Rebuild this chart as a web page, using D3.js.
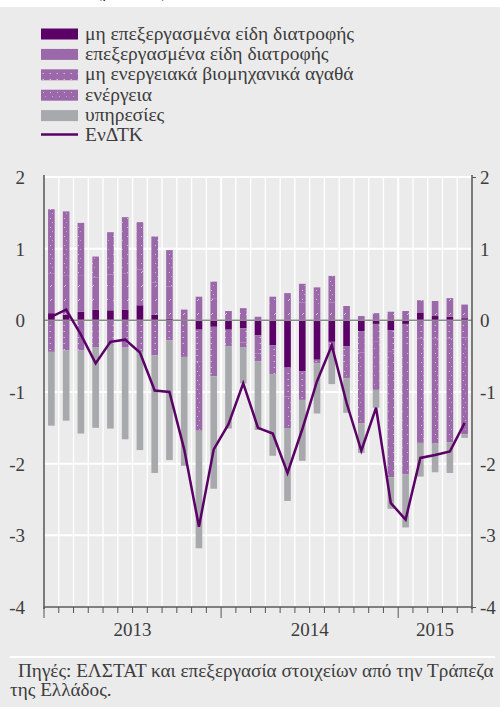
<!DOCTYPE html>
<html>
<head>
<meta charset="utf-8">
<script src="https://cdn.jsdelivr.net/npm/d3@7"></script>
<style>
  body { margin: 0; background: #fff; }
  svg { display: block; }
</style>
</head>
<body>
<div id="chart"></div>
<script>
// monthly, Jan 2013 - May 2015
const months = d3.range(29);
const years = [
  { label: "2013", from: 0, to: 11 },
  { label: "2014", from: 12, to: 23 },
  { label: "2015", from: 24, to: 28 }
];

const seriesNames = [
  "μη επεξεργασμένα είδη διατροφής",
  "επεξεργασμένα είδη διατροφής",
  "μη ενεργειακά βιομηχανικά αγαθά",
  "ενέργεια",
  "υπηρεσίες"
];
const lineName = "ΕνΔΤΚ";

const unprocessedFood = [0.10, 0.08, 0.12, 0.15, 0.14, 0.15, 0.21, 0.08, 0.02, 0.00, -0.13, -0.09,
  -0.13, -0.11, -0.21, -0.35, -0.66, -0.71, -0.55, -0.30, -0.36, -0.15, -0.05, -0.14,
  -0.05, 0.11, 0.06, 0.05, 0.03];
const processedFood = [0.55, 0.55, 0.50, 0.45, 0.50, 0.50, 0.50, 0.45, 0.45, 0.15, 0.33, 0.30,
  0.13, 0.17, 0.05, 0.20, 0.38, 0.25, 0.20, 0.25, 0.20, 0.06, 0.10, 0.12,
  0.13, 0.17, 0.21, 0.26, 0.19];
const industrialGoods = [-0.44, -0.42, -0.42, -0.38, -0.34, -0.38, -0.44, -0.49, -0.28, -0.40, -0.45, -0.69,
  -0.20, -0.20, -0.25, -0.40, -0.40, -0.40, -0.05, -0.12, -0.25, -0.30, -0.25, -0.30,
  -0.35, -0.25, -0.25, -0.25, -0.24];
const energy = [0.90, 0.89, 0.74, 0.29, 0.59, 0.79, 0.66, 0.64, 0.51, -0.11, -0.96, 0.24,
  -0.03, -0.07, -0.11, 0.13, -0.45, 0.26, 0.26, 0.37, -0.20, -0.99, -0.67, -1.75,
  -1.75, -1.46, -1.47, -1.45, -1.35];
const services = [-1.03, -0.98, -1.16, -1.12, -1.17, -1.28, -1.37, -1.64, -1.67, -1.52, -1.64, -1.57,
  -1.15, -0.50, -0.96, -1.14, -1.01, -0.85, -0.70, -0.47, -0.48, -0.41, -0.25, -0.44,
  -0.74, -0.47, -0.40, -0.43, -0.05];
const hicp = [0.05, 0.15, -0.20, -0.60, -0.30, -0.27, -0.45, -0.98, -1.00, -1.80, -2.88, -1.80,
  -1.45, -0.88, -1.50, -1.58, -2.13, -1.52, -0.85, -0.35, -1.15, -1.82, -1.22, -2.55,
  -2.78, -1.92, -1.88, -1.83, -1.43];

const yTicks = [2, 1, 0, -1, -2, -3, -4];

const width = 500, height = 707;
const dark = "#5a0066", mid = "#9b69a9", grey = "#a8a9ac", bg = "#ebebeb";
const serif = "'Liberation Serif', 'DejaVu Serif', serif";
const textColor = "#3c3c3c";

const svg = d3.select("#chart").append("svg")
  .attr("width", width).attr("height", height)
  .attr("font-family", serif);

svg.append("rect").attr("width", width).attr("height", height).attr("fill", bg);
svg.append("rect").attr("width", width).attr("height", 7).attr("fill", "#fff");
// title above, only its lowest pixels show in the picture
svg.append("text").attr("x", 96).attr("y", -3.5)
  .attr("font-family", serif).attr("font-size", 18).attr("fill", dark)
  .text("(μονάδες)");

// patterns for the three mid purple series
const defs = svg.append("defs");
function pattern(id, w, h, draw) {
  const p = defs.append("pattern").attr("id", id)
    .attr("patternUnits", "userSpaceOnUse").attr("width", w).attr("height", h);
  p.append("rect").attr("width", w).attr("height", h).attr("fill", mid);
  draw(p);
}
pattern("pf", 7, 14, p => {
  p.append("line").attr("x1", 1).attr("y1", 7).attr("x2", 3).attr("y2", 5)
    .attr("stroke", "#fff").attr("stroke-width", 1).attr("opacity", 0.6);
});
pattern("ng", 7, 6, p => {
  p.append("rect").attr("x", 0.5).attr("y", 1).attr("width", 1.5).attr("height", 1)
    .attr("fill", "#fff").attr("opacity", 0.55);
});
pattern("en", 7, 9, p => {
  p.append("rect").attr("x", 1).attr("y", 2).attr("width", 1).attr("height", 1)
    .attr("fill", "#fff").attr("opacity", 0.55);
  p.append("rect").attr("x", 3).attr("y", 6).attr("width", 1).attr("height", 1)
    .attr("fill", "#fff").attr("opacity", 0.4);
});
const fills = [dark, "url(#pf)", "url(#ng)", "url(#en)", grey];

// scales
const x = d3.scaleBand().domain(months).range([44, 472])
  .paddingInner(0.55).paddingOuter(0.275);
const y = d3.scaleLinear().domain([-4, 2]).range([607, 177]);
const step = x.step();

// grid
const g = svg.append("g");
g.selectAll(".vgrid").data(d3.range(1, months.length)).enter().append("line")
  .attr("x1", i => 44 + i * step).attr("x2", i => 44 + i * step)
  .attr("y1", y(2)).attr("y2", y(-4))
  .attr("stroke", "#fff").attr("stroke-width", i => i % 12 === 0 ? 2 : 1.3);
g.selectAll(".hgrid").data(yTicks).enter().append("line")
  .attr("x1", 44).attr("x2", 472)
  .attr("y1", d => y(d)).attr("y2", d => y(d))
  .attr("stroke", "#fff").attr("stroke-width", 2);

// stacked bars
const table = months.map(i => ({
  i: i,
  s0: unprocessedFood[i], s1: processedFood[i], s2: industrialGoods[i],
  s3: energy[i], s4: services[i]
}));
const stack = d3.stack().keys(["s0", "s1", "s2", "s3", "s4"])
  .offset(d3.stackOffsetDiverging);
const layers = stack(table);

svg.selectAll(".layer").data(layers).enter().append("g")
  .attr("fill", (d, k) => fills[k])
  .selectAll("rect").data(d => d).enter().append("rect")
  .attr("x", d => x(d.data.i))
  .attr("width", x.bandwidth())
  .attr("y", d => y(Math.max(d[0], d[1])))
  .attr("height", d => Math.abs(y(d[0]) - y(d[1])));

// zero line
svg.append("line").attr("x1", 44).attr("x2", 472)
  .attr("y1", y(0)).attr("y2", y(0))
  .attr("stroke", "#8a8a8a").attr("stroke-width", 1.5);

// HICP line
svg.append("path").datum(hicp)
  .attr("fill", "none").attr("stroke", dark).attr("stroke-width", 2.5)
  .attr("stroke-linejoin", "miter")
  .attr("d", d3.line().x((d, i) => x(i) + x.bandwidth() / 2).y(d => y(d)));

// axes
const axisColor = "#555";
const fmt = d => d < 0 ? "-" + Math.abs(d) : String(d);
const yLeft = svg.append("g").attr("transform", "translate(44,0)")
  .call(d3.axisLeft(y).tickValues(yTicks).tickSize(0).tickPadding(19).tickFormat(fmt));
const yRight = svg.append("g").attr("transform", "translate(472,0)")
  .call(d3.axisRight(y).tickValues(yTicks).tickSize(4).tickPadding(4).tickFormat(fmt));
[yLeft, yRight].forEach(a => {
  a.attr("font-family", serif).attr("font-size", 19);
  a.select(".domain").attr("stroke", axisColor).attr("stroke-width", 1.5)
    .attr("d", "M0,175V609");
  a.selectAll("line").attr("stroke", axisColor);
  a.selectAll("text").attr("fill", textColor).attr("dy", "0.34em");
});
yRight.selectAll(".tick line").filter(d => d !== 2 && d !== -4).remove();

// x axis with month ticks
svg.append("line").attr("x1", 44).attr("x2", 472)
  .attr("y1", 607).attr("y2", 607).attr("stroke", axisColor).attr("stroke-width", 1.5);
svg.selectAll(".xtick").data(d3.range(0, months.length + 1)).enter().append("line")
  .attr("x1", i => 44 + i * step).attr("x2", i => 44 + i * step)
  .attr("y1", 607).attr("y2", i => (i % 12 === 0 ? 618 : 613))
  .attr("stroke", axisColor).attr("stroke-width", 1);

svg.selectAll(".year").data(years).enter().append("text")
  .attr("x", d => 44 + ((d.from + d.to + 1) / 2) * step)
  .attr("y", 636).attr("text-anchor", "middle")
  .attr("font-size", 19).attr("fill", textColor)
  .text(d => d.label);

// legend
const legend = svg.append("g");
seriesNames.forEach((name, k) => {
  const cy = 34 + k * 20.4;
  legend.append("rect").attr("x", 41).attr("y", cy - 5.5)
    .attr("width", 37).attr("height", 11).attr("fill", fills[k]);
  legend.append("text").attr("x", 85).attr("y", cy + 5.5)
    .attr("font-size", 19.5).attr("fill", textColor).text(name);
});
legend.append("line").attr("x1", 41).attr("x2", 78)
  .attr("y1", 134.5).attr("y2", 134.5).attr("stroke", dark).attr("stroke-width", 2.5);
legend.append("text").attr("x", 85).attr("y", 140.5)
  .attr("font-size", 19.5).attr("fill", textColor).text(lineName);

// footer
svg.append("line").attr("x1", 10).attr("x2", 495)
  .attr("y1", 657).attr("y2", 657).attr("stroke", "#fff").attr("stroke-width", 2);
svg.append("text").attr("x", 18).attr("y", 677)
  .attr("font-size", 19.2).attr("fill", textColor)
  .text("Πηγές: ΕΛΣΤΑΤ και επεξεργασία στοιχείων από την Τράπεζα");
svg.append("text").attr("x", 10).attr("y", 696)
  .attr("font-size", 19.2).attr("fill", textColor)
  .text("της Ελλάδος.");
</script>
</body>
</html>
